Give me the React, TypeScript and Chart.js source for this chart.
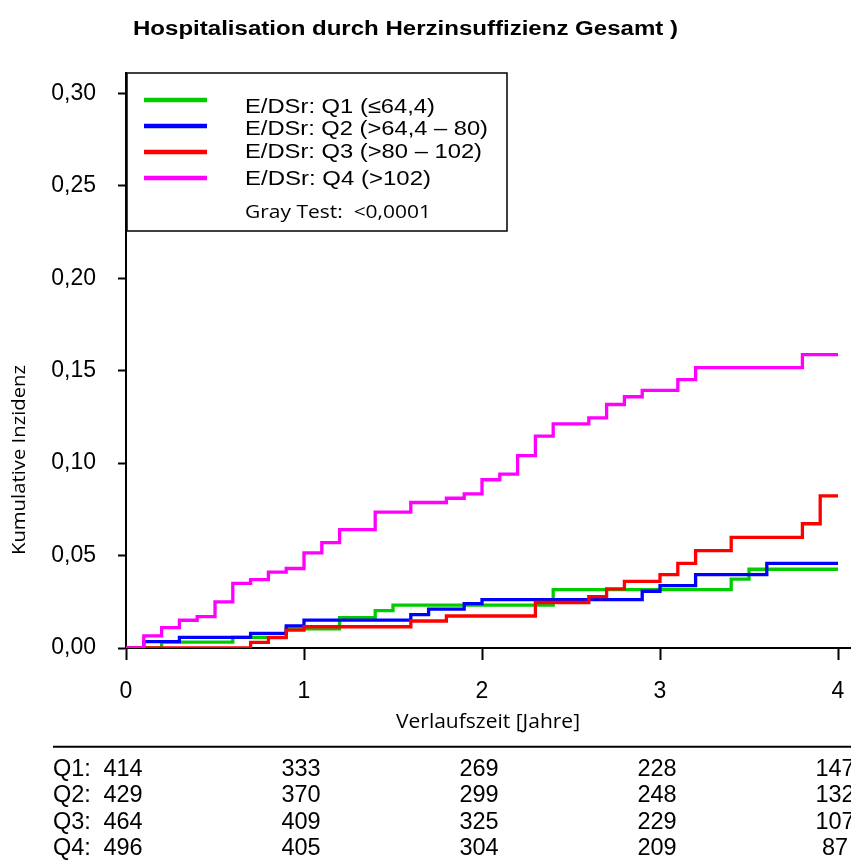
import React, { useEffect, useRef } from 'react';
import { Chart, registerables } from 'chart.js';

Chart.register(...registerables);

const chartTitle = 'Hospitalisation durch Herzinsuffizienz Gesamt )';
const xAxisTitle = 'Verlaufszeit [Jahre]';
const yAxisTitle = 'Kumulative Inzidenz';
const seriesLabels = ['E/DSr: Q1 (≤64,4)', 'E/DSr: Q2 (>64,4 – 80)', 'E/DSr: Q3 (>80 – 102)', 'E/DSr: Q4 (>102)'];
const seriesColors = ['#00cd00', '#0000ff', '#ff0000', '#ff00ff'];
const testLabel = 'Gray Test:  <0,0001';

const xTicks = [0, 1, 2, 3, 4];
const yTicks = [0, 0.05, 0.1, 0.15, 0.2, 0.25, 0.3];

const q1Times = [0, 0.2, 0.6, 0.9, 1.2, 1.4, 1.5, 2.4, 3.4, 3.5, 4.0];
const q1Values = [0, 0.0032, 0.0058, 0.0103, 0.0164, 0.0202, 0.0232, 0.0316, 0.0373, 0.0426, 0.0426];

const q2Times = [0, 0.1, 0.3, 0.7, 0.9, 1.0, 1.6, 1.7, 1.9, 2.0, 2.9, 3.0, 3.2, 3.6, 4.0];
const q2Values = [0, 0.0034, 0.0058, 0.0079, 0.012, 0.0151, 0.018, 0.021, 0.024, 0.0262, 0.0307, 0.0337, 0.0397, 0.0458, 0.0458];

const q3Times = [0, 0.7, 0.8, 0.9, 1.0, 1.6, 1.8, 2.3, 2.6, 2.7, 2.8, 3.0, 3.1, 3.2, 3.4, 3.8, 3.9, 4.0];
const q3Values = [0, 0.003, 0.0056, 0.0097, 0.0115, 0.0146, 0.0173, 0.0246, 0.0278, 0.032, 0.036, 0.0397, 0.0458, 0.0527, 0.0598, 0.0672, 0.0823, 0.0823];

const q4Times = [0, 0.1, 0.2, 0.3, 0.4, 0.5, 0.6, 0.7, 0.8, 0.9, 1.0, 1.1, 1.2, 1.4, 1.6, 1.8, 1.9, 2.0, 2.1, 2.2, 2.3, 2.4, 2.6, 2.7, 2.8, 2.9, 3.1, 3.2, 3.8, 4.0];
const q4Values = [0, 0.0066, 0.011, 0.015, 0.017, 0.025, 0.035, 0.037, 0.041, 0.043, 0.0515, 0.057, 0.064, 0.0735, 0.0787, 0.081, 0.0834, 0.091, 0.094, 0.104, 0.1146, 0.1212, 0.1245, 0.1317, 0.1359, 0.1393, 0.1452, 0.1517, 0.1587, 0.1587];

const riskGroups = ['Q1:', 'Q2:', 'Q3:', 'Q4:'];
const riskTimes = [0, 1, 2, 3, 4];
const riskQ1 = [414, 333, 269, 228, 147];
const riskQ2 = [429, 370, 299, 248, 132];
const riskQ3 = [464, 409, 325, 229, 107];
const riskQ4 = [496, 405, 304, 209, 87];

const ARIAL = '"Liberation Sans", Arial, sans-serif';
const CALIBRI = '"Open Sans", "Noto Sans", sans-serif';

function fitText(ctx: CanvasRenderingContext2D, text: string, x: number, y: number, font: string, width: number, align: CanvasTextAlign, rotate = 0) {
  ctx.save();
  ctx.font = font;
  const w = ctx.measureText(text).width;
  const s = width / w;
  ctx.translate(x, y);
  if (rotate) ctx.rotate(rotate);
  ctx.scale(s, 1);
  ctx.textAlign = align;
  ctx.textBaseline = 'alphabetic';
  ctx.fillStyle = '#000';
  ctx.fillText(text, 0, 0);
  ctx.restore();
}

const decorPlugin = {
  id: 'decor',
  afterDraw(chart: any) {
    const ctx: CanvasRenderingContext2D = chart.ctx;
    const area = chart.chartArea;
    const xs = chart.scales.x;
    ctx.save();
    // title
    fitText(ctx, chartTitle, 133, 34.5, 'bold 20px ' + ARIAL, 545, 'left');

    // legend box
    const L = area.left + 1;
    const T = area.top;
    ctx.strokeStyle = '#000';
    ctx.lineWidth = 1.5;
    ctx.strokeRect(L, T, 380, 158);
    const lineYs = [27, 53, 79, 105];
    const textYs = [40, 62, 84.5, 112];
    const textWs = [190, 243, 237, 186];
    for (let i = 0; i < 4; i++) {
      ctx.beginPath();
      ctx.strokeStyle = seriesColors[i];
      ctx.lineWidth = 4.5;
      ctx.moveTo(L + 17, T + lineYs[i]);
      ctx.lineTo(L + 80, T + lineYs[i]);
      ctx.stroke();
      fitText(ctx, seriesLabels[i], L + 118, T + textYs[i], '20.5px ' + ARIAL, textWs[i], 'left');
    }
    fitText(ctx, testLabel, L + 118, T + 145, '18px ' + CALIBRI, 186, 'left');

    // axis titles
    fitText(ctx, xAxisTitle, 488, 728, '20px ' + CALIBRI, 184, 'center');
    fitText(ctx, yAxisTitle, 25, 460, '19px ' + CALIBRI, 190, 'center', -Math.PI / 2);

    // risk table
    ctx.beginPath();
    ctx.strokeStyle = '#000';
    ctx.lineWidth = 2;
    ctx.moveTo(53, 746.7);
    ctx.lineTo(851, 746.7);
    ctx.stroke();
    const rows = [riskQ1, riskQ2, riskQ3, riskQ4];
    ctx.font = '23.5px ' + ARIAL;
    ctx.fillStyle = '#000';
    ctx.textBaseline = 'alphabetic';
    for (let r = 0; r < 4; r++) {
      const by = 776 + r * 26.3;
      ctx.textAlign = 'left';
      ctx.fillText(riskGroups[r], 53, by);
      ctx.textAlign = 'center';
      for (let c = 0; c < riskTimes.length; c++) {
        const px = xs.getPixelForValue(riskTimes[c]) - 3;
        ctx.fillText(String(rows[r][c]), px, by);
      }
    }
    ctx.restore();
  },
};

function toPoints(times: number[], values: number[]) {
  return times.map((t, i) => ({ x: t, y: values[i] }));
}

export default function App() {
  const canvasRef = useRef<HTMLCanvasElement | null>(null);

  useEffect(() => {
    const canvas = canvasRef.current;
    if (!canvas) return;
    const series = [
      toPoints(q1Times, q1Values),
      toPoints(q2Times, q2Values),
      toPoints(q3Times, q3Values),
      toPoints(q4Times, q4Values),
    ];
    const chart = new Chart(canvas, {
      type: 'line',
      data: {
        datasets: series.map((d, i) => ({
          label: seriesLabels[i],
          data: d,
          borderColor: seriesColors[i],
          backgroundColor: seriesColors[i],
          borderWidth: 3.3,
          pointRadius: 0,
          stepped: 'before' as const,
          fill: false,
          order: 4 - i,
        })),
      },
      options: {
        responsive: false,
        animation: false,
        events: [],
        layout: { padding: { top: 73, left: 0, right: 0, bottom: 0 } },
        plugins: {
          legend: { display: false },
          title: { display: false },
          tooltip: { enabled: false },
        },
        scales: {
          x: {
            type: 'linear',
            min: 0,
            max: 4.073,
            afterBuildTicks: (scale: any) => {
              scale.ticks = xTicks.map((v) => ({ value: v }));
            },
            afterFit: (scale: any) => {
              scale.height = 213;
              scale.paddingLeft = 0;
              scale.paddingRight = 0;
            },
            grid: { drawOnChartArea: false, drawTicks: true, tickLength: 12, tickColor: '#000', tickWidth: 2 },
            border: { display: true, color: '#000', width: 2 },
            ticks: {
              color: '#000',
              font: { family: ARIAL, size: 23 },
              padding: 18,
              maxRotation: 0,
              autoSkip: false,
              callback: (v: any) => String(v),
            },
          },
          y: {
            type: 'linear',
            min: 0,
            max: 0.311,
            afterBuildTicks: (scale: any) => {
              scale.ticks = yTicks.map((v) => ({ value: v }));
            },
            afterFit: (scale: any) => {
              scale.width = 126;
              scale.paddingTop = 0;
              scale.paddingBottom = 0;
            },
            grid: { drawOnChartArea: false, drawTicks: true, tickLength: 8, tickColor: '#000', tickWidth: 2 },
            border: { display: true, color: '#000', width: 2 },
            ticks: {
              color: '#000',
              font: { family: ARIAL, size: 23 },
              padding: 22,
              autoSkip: false,
              callback: (v: any) => Number(v).toFixed(2).replace('.', ','),
            },
          },
        },
      },
      plugins: [decorPlugin],
    } as any);
    return () => chart.destroy();
  }, []);

  return (
    <div style={{ position: 'fixed', left: 0, top: 0, width: 851, height: 861, background: '#fff' }}>
      <canvas ref={canvasRef} width={851} height={861} style={{ display: 'block' }} />
    </div>
  );
}
